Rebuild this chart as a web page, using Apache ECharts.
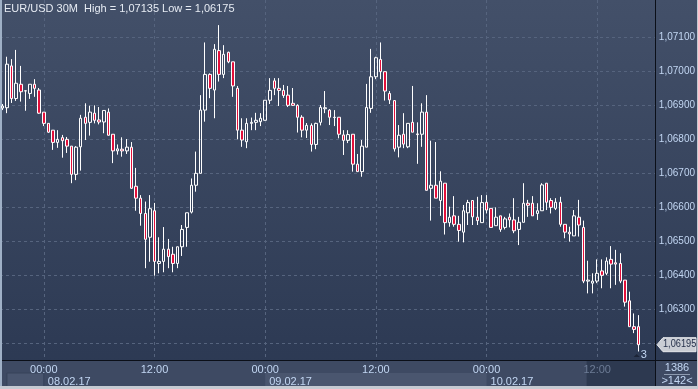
<!DOCTYPE html>
<html>
<head>
<meta charset="utf-8">
<script src="https://cdn.jsdelivr.net/npm/echarts@6/dist/echarts.min.js"></script>
<style>
html,body{margin:0;padding:0;background:#2d3a54;}
#chart{width:698px;height:389px;}
</style>
</head>
<body>
<div id="chart"></div>
<script>
// ---- data (EUR/USD 30M) ----
var titleText = 'EUR/USD 30M  High = 1,07135 Low = 1,06175';
var startTime = '2017-02-07T19:30:00';
var totalSlots = 142;
var opens = [1.06891,1.06892,1.07015,1.06919,1.06961,1.06941,1.06934,1.06961,1.06944,1.06879,
1.06846,1.06826,1.06790,1.06804,1.06799,1.06779,1.06696,1.06777,1.06864,1.06849,
1.06876,1.06856,1.06850,1.06879,1.06814,1.06765,1.06770,1.06765,1.06776,1.06661,
1.06626,1.06581,1.06511,1.06589,1.06434,1.06440,1.06476,1.06461,1.06434,1.06483,
1.06540,1.06585,1.06664,1.06699,1.06885,1.06990,1.06944,1.07060,1.06990,1.07055,
1.07027,1.06949,1.06826,1.06792,1.06846,1.06849,1.06851,1.06855,1.06914,1.06971,
1.06949,1.06943,1.06929,1.06905,1.06899,1.06864,1.06826,1.06840,1.06784,1.06849,
1.06889,1.06885,1.06864,1.06864,1.06812,1.06796,1.06814,1.06726,1.06704,1.06776,
1.06890,1.06983,1.07034,1.06998,1.06934,1.06913,1.06776,1.06814,1.06777,1.06849,
1.06815,1.06814,1.06879,1.06655,1.06664,1.06619,1.06670,1.06554,1.06574,1.06549,
1.06526,1.06583,1.06619,1.06570,1.06554,1.06614,1.06596,1.06545,1.06574,1.06540,
1.06570,1.06562,1.06534,1.06555,1.06611,1.06611,1.06581,1.06589,1.06670,1.06619,
1.06596,1.06614,1.06549,1.06526,1.06515,1.06570,1.06540,1.06382,1.06376,1.06382,
1.06412,1.06405,1.06446,1.06436,1.06434,1.06385,1.06324,1.06248,1.06248];
var closes = [1.06897,1.07020,1.06919,1.06964,1.06939,1.06942,1.06961,1.06949,1.06876,1.06846,
1.06820,1.06790,1.06799,1.06795,1.06779,1.06696,1.06776,1.06861,1.06846,1.06879,
1.06855,1.06850,1.06884,1.06811,1.06765,1.06771,1.06765,1.06776,1.06655,1.06626,
1.06581,1.06505,1.06595,1.06440,1.06440,1.06476,1.06454,1.06434,1.06483,1.06534,
1.06583,1.06664,1.06699,1.06885,1.06990,1.06949,1.07064,1.06990,1.07049,1.07027,
1.06956,1.06826,1.06797,1.06846,1.06849,1.06855,1.06861,1.06914,1.06943,1.06949,
1.06943,1.06928,1.06899,1.06899,1.06864,1.06826,1.06840,1.06784,1.06846,1.06893,
1.06892,1.06864,1.06863,1.06814,1.06796,1.06813,1.06726,1.06704,1.06779,1.06893,
1.06983,1.07039,1.06998,1.06941,1.06915,1.06771,1.06811,1.06785,1.06846,1.06820,
1.06813,1.06879,1.06649,1.06664,1.06626,1.06676,1.06554,1.06570,1.06549,1.06531,
1.06589,1.06613,1.06571,1.06560,1.06613,1.06591,1.06540,1.06570,1.06534,1.06565,
1.06562,1.06530,1.06555,1.06611,1.06605,1.06574,1.06589,1.06665,1.06614,1.06599,
1.06614,1.06549,1.06526,1.06521,1.06574,1.06547,1.06382,1.06385,1.06382,1.06405,
1.06399,1.06441,1.06432,1.06432,1.06382,1.06320,1.06248,1.06240,1.06195];
var lows = [1.06885,1.06876,1.06906,1.06912,1.06910,1.06883,1.06918,1.06924,1.06874,1.06838,
1.06818,1.06768,1.06774,1.06745,1.06759,1.06670,1.06679,1.06707,1.06797,1.06810,
1.06846,1.06843,1.06817,1.06810,1.06729,1.06754,1.06748,1.06756,1.06653,1.06589,
1.06545,1.06420,1.06439,1.06398,1.06405,1.06408,1.06420,1.06408,1.06420,1.06456,
1.06483,1.06581,1.06645,1.06699,1.06851,1.06920,1.06861,1.06969,1.06979,1.07023,
1.06924,1.06799,1.06777,1.06773,1.06826,1.06826,1.06838,1.06855,1.06903,1.06929,
1.06897,1.06921,1.06894,1.06897,1.06819,1.06805,1.06803,1.06763,1.06770,1.06840,
1.06876,1.06841,1.06838,1.06802,1.06753,1.06788,1.06704,1.06704,1.06689,1.06776,
1.06877,1.06976,1.06976,1.06913,1.06903,1.06763,1.06746,1.06773,1.06773,1.06820,
1.06727,1.06777,1.06649,1.06560,1.06626,1.06574,1.06519,1.06542,1.06542,1.06498,
1.06496,1.06547,1.06547,1.06547,1.06554,1.06581,1.06540,1.06545,1.06527,1.06534,
1.06540,1.06523,1.06488,1.06555,1.06571,1.06574,1.06562,1.06589,1.06591,1.06581,
1.06591,1.06542,1.06508,1.06498,1.06515,1.06513,1.06376,1.06346,1.06346,1.06376,
1.06361,1.06400,1.06361,1.06371,1.06376,1.06307,1.06248,1.06229,1.06175];
var highs = [1.06903,1.07042,1.07035,1.07062,1.07015,1.06944,1.06961,1.06976,1.06950,1.06879,
1.06846,1.06826,1.06826,1.06812,1.06806,1.06779,1.06779,1.06871,1.06905,1.06898,
1.06899,1.06894,1.06884,1.06890,1.06814,1.06784,1.06805,1.06800,1.06791,1.06715,
1.06635,1.06616,1.06635,1.06612,1.06511,1.06541,1.06506,1.06483,1.06483,1.06547,
1.06583,1.06684,1.06763,1.06929,1.07084,1.06993,1.07079,1.07135,1.07076,1.07057,
1.07027,1.06956,1.06861,1.06861,1.06863,1.06877,1.06876,1.06914,1.06979,1.06979,
1.06979,1.06959,1.06956,1.06950,1.06902,1.06870,1.06847,1.06846,1.06848,1.06900,
1.06941,1.06888,1.06885,1.06864,1.06826,1.06826,1.06814,1.06756,1.06797,1.06962,
1.07065,1.07042,1.07084,1.06998,1.06941,1.06913,1.06841,1.06876,1.06846,1.06956,
1.06849,1.06905,1.06929,1.06795,1.06791,1.06705,1.06670,1.06601,1.06632,1.06574,
1.06606,1.06621,1.06619,1.06630,1.06635,1.06635,1.06596,1.06599,1.06574,1.06571,
1.06581,1.06626,1.06571,1.06670,1.06621,1.06632,1.06611,1.06670,1.06670,1.06626,
1.06626,1.06630,1.06549,1.06542,1.06591,1.06621,1.06560,1.06442,1.06405,1.06446,
1.06446,1.06452,1.06485,1.06474,1.06464,1.06385,1.06351,1.06287,1.06282];
var priceTicks = [1.062,1.063,1.064,1.065,1.066,1.067,1.068,1.069,1.070,1.071];
var priceLabelTicks = [1.063,1.064,1.065,1.066,1.067,1.068,1.069,1.070,1.071];
var timeTickIdx = [9,33,57,81,105,129];
var dateTickIdx = [9,57,105];
var lastPriceText = '1,06195';
var barsInfo = ['1386','>142<'];
var bubbleCount = '3';

// ---- derived ----
function pad(n){return (n<10?'0':'')+n;}
var categories = [];
var t0 = new Date(startTime + 'Z').getTime();
for (var i = 0; i < totalSlots; i++) {
  var d = new Date(t0 + i * 1800000);
  categories.push(pad(d.getUTCDate()) + '.' + pad(d.getUTCMonth()+1) + '.' + String(d.getUTCFullYear()).slice(2) + ' ' + pad(d.getUTCHours()) + ':' + pad(d.getUTCMinutes()));
}
var candles = [];
for (var j = 0; j < totalSlots; j++) {
  if (j < opens.length) candles.push([opens[j], closes[j], lows[j], highs[j]]);
  else candles.push('-');
}
function fmtPrice(v){ return v.toFixed(5).replace('.', ','); }

var FONT = 'Liberation Sans, Arial, sans-serif';
var chart = echarts.init(document.getElementById('chart'), null, {renderer:'canvas'});
var GRID = {left:0, top:0, width:655, height:360};
var option = {
  animation:false,
  backgroundColor:{type:'linear',x:0,y:0,x2:0,y2:1,colorStops:[{offset:0,color:'#435069'},{offset:1,color:'#2b3852'}]},
  grid:GRID,
  xAxis:[
    {type:'category', data:categories, boundaryGap:true,
     axisLine:{show:false}, axisTick:{show:false}, axisLabel:{show:false}, splitLine:{show:false}},
    {type:'value', min:-0.5, max:totalSlots-0.5, position:'bottom',
     axisLine:{show:false}, axisTick:{show:false, customValues:timeTickIdx},
     splitLine:{show:true, lineStyle:{color:'#56647e', type:[3,3], width:1}},
     axisLabel:{show:true, customValues:timeTickIdx, margin:4, fontFamily:FONT, fontSize:11,
       color:function(v){ return v >= 120 ? '#6d7c96' : '#c2d6f2'; },
       formatter:function(v){ return categories[Math.round(v)].slice(-5); }}},
    {type:'value', min:-0.5, max:totalSlots-0.5, position:'bottom', offset:12,
     axisLine:{show:false}, axisTick:{show:false, customValues:dateTickIdx}, splitLine:{show:false},
     axisLabel:{show:true, customValues:dateTickIdx, margin:4, align:'left', padding:[0,0,0,4],
       fontFamily:FONT, fontSize:11, color:'#c2d6f2',
       formatter:function(v){ return categories[Math.round(v)].slice(0,8); }}}
  ],
  yAxis:{type:'value', position:'right', min:1.0615, max:1.07208824, scale:true,
    axisLine:{show:false}, axisTick:{show:false, customValues:priceTicks},
    splitLine:{show:true, lineStyle:{color:'#56647e', type:[3,3], width:1}},
    axisLabel:{customValues:priceLabelTicks, margin:4, fontFamily:FONT, fontSize:10, color:'#c2d6f2',
      formatter:fmtPrice}},
  series:[{
    type:'candlestick', data:candles, barWidth:3,
    itemStyle:{color:'rgba(0,0,0,0)', color0:'#e3103b', borderColor:'#ffffff', borderColor0:'#ffffff', borderWidth:1}
  }]
};
chart.setOption(option);

// decorations tied to axes
var xPix = function(v){ return chart.convertToPixel({xAxisIndex:1}, v); };
var yPix = function(v){ return chart.convertToPixel({yAxisIndex:0}, v); };
var xb0 = xPix(dateTickIdx[0]), xb1 = xPix(dateTickIdx[1]), xb2 = xPix(dateTickIdx[2]);
var xDark = xPix(126.7);
var xPrev = xPix(dateTickIdx[0] - 8);
var lastY = yPix(closes[closes.length-1]);
var lastX = xPix(opens.length - 1);
var plotR = GRID.left + GRID.width, plotB = GRID.top + GRID.height;

chart.setOption({
  graphic:[
    {type:'rect', z:-1, silent:true, shape:{x:0,y:plotB,width:698,height:389-plotB}, style:{fill:'#3e4a63'}},
    {type:'rect', z:-1, silent:true, shape:{x:xPrev,y:plotB+13,width:xb0-xPrev,height:16}, style:{fill:'#4a566f', stroke:'#36425a'}},
    {type:'rect', z:-1, silent:true, shape:{x:xb1,y:plotB+13,width:xb2-xb1,height:16}, style:{fill:'#4a566f'}},
    {type:'rect', z:-1, silent:true, shape:{x:xDark,y:plotB+1,width:plotR-xDark,height:389-plotB}, style:{fill:'#2d3950'}},
    {type:'line', silent:true, shape:{x1:0,y1:plotB+0.5,x2:698,y2:plotB+0.5}, style:{stroke:'#0b0f18', lineWidth:1}},
    {type:'line', silent:true, shape:{x1:plotR+0.5,y1:0,x2:plotR+0.5,y2:389}, style:{stroke:'#0b0f18', lineWidth:1}},
    {type:'rect', silent:true, shape:{x:0,y:0,width:2,height:389}, style:{fill:'#9fb0c6'}},
    {type:'rect', silent:true, shape:{x:0,y:386,width:698,height:3}, style:{fill:'#c5cad2'}},
    {type:'rect', silent:true, shape:{x:697,y:0,width:1,height:389}, style:{fill:'#c5cad2'}},
    {type:'text', silent:true, left:4, top:3, style:{text:titleText, fill:'#e6ebf3', font:'11px ' + FONT}},
    {type:'polygon', silent:true, z:10, shape:{points:[[plotR+2,lastY],[plotR+8,lastY-7],[696,lastY-7],[696,lastY+7],[plotR+8,lastY+7]]},
      style:{fill:'#c9cdd4', stroke:'#e6e8ec'}},
    {type:'text', silent:true, z:11, x:plotR+8, y:lastY, scaleX:0.92,
      style:{text:lastPriceText, fill:'#25304a', font:'10px ' + FONT, verticalAlign:'middle', textVerticalAlign:'middle'}},
    {type:'polygon', silent:true, shape:{points:[[lastX-5,plotB-3],[lastX-2,plotB-6],[lastX+1,plotB-3]]}, style:{fill:'#1c2436'}},
    {type:'text', silent:true, x:lastX+2, y:plotB-5, style:{text:bubbleCount, fill:'#c2d6f2', font:'11px ' + FONT, textVerticalAlign:'middle'}},
    {type:'text', silent:true, x:677, y:plotB+8, style:{text:barsInfo[0], fill:'#c2d6f2', font:'11px ' + FONT, textAlign:'center', textVerticalAlign:'middle'}},
    {type:'line', silent:true, shape:{x1:664,y1:plotB+14.5,x2:690,y2:plotB+14.5}, style:{stroke:'#8e9bb0', lineWidth:1}},
    {type:'text', silent:true, x:677, y:plotB+21, style:{text:barsInfo[1], fill:'#c2d6f2', font:'11px ' + FONT, textAlign:'center', textVerticalAlign:'middle'}}
  ]
});
</script>
</body>
</html>
